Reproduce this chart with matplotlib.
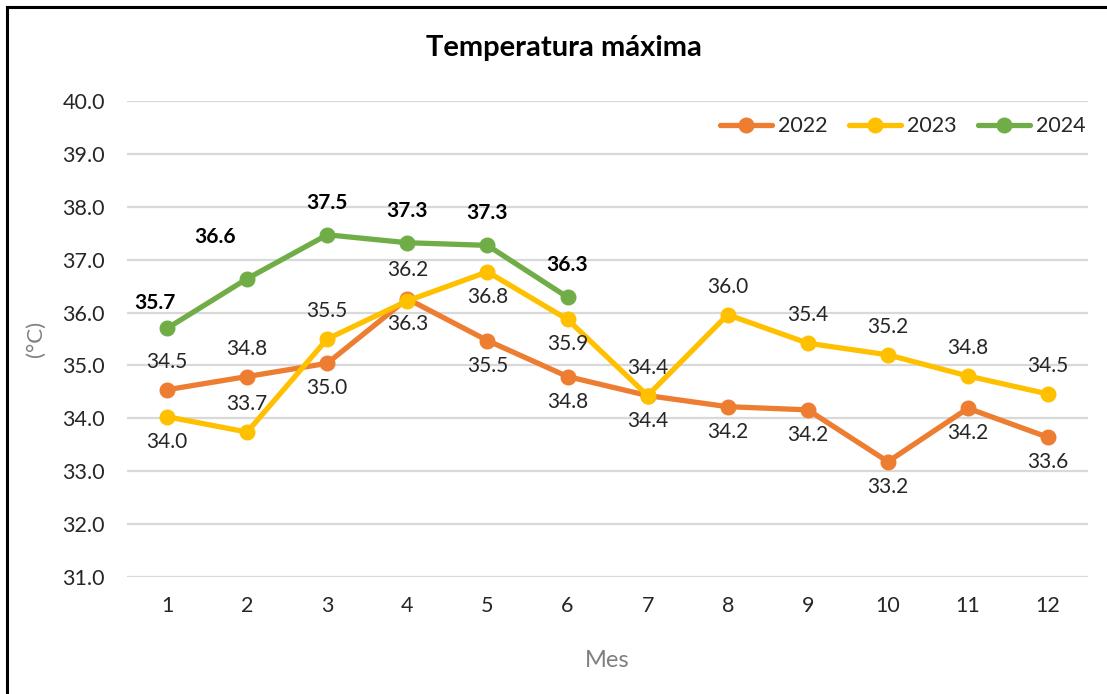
import matplotlib
matplotlib.use("Agg")
import matplotlib.pyplot as plt
from matplotlib.lines import Line2D

plt.rcParams["font.family"] = ["Lato", "DejaVu Sans"]

months = list(range(1, 13))
t2022 = [34.54, 34.79, 35.04, 36.26, 35.47, 34.79, 34.43, 34.22, 34.16, 33.18, 34.19, 33.64]
t2023 = [34.03, 33.74, 35.50, 36.22, 36.77, 35.87, 34.43, 35.96, 35.42, 35.20, 34.80, 34.46]
t2024 = [35.70, 36.64, 37.47, 37.32, 37.27, 36.29]

# label offsets (points) per data point
off2022 = [(0, 20), (0, 20)] + [(0, -18)] * 10
off2023 = [(0, -18), (0, 20), (0, 20), (0, 22), (0, -18), (0, -18)] + [(0, 20)] * 6
off2024 = [(-9, 18), (-23, 30), (0, 23), (0, 23), (0, 23), (0, 23)]

series = [
    ("2022", t2022, off2022, "#ED7D31", "normal"),
    ("2023", t2023, off2023, "#FFC000", "normal"),
    ("2024", t2024, off2024, "#70AD47", "bold"),
]

fig = plt.figure(figsize=(11.07, 6.94), dpi=100)
ax = fig.add_axes([0.1147, 0.1686, 0.983 - 0.1147, 0.8545 - 0.1686])

for name, vals, offs, color, weight in series:
    x = months[:len(vals)]
    ax.plot(x, vals, color=color, lw=3.8, marker="o", markersize=10.5,
            solid_capstyle="round", label=name, zorder=3)
    for xi, v, (dx, dy) in zip(x, vals, offs):
        ax.annotate(f"{v:.1f}", (xi, v), xytext=(dx, dy), textcoords="offset points",
                    ha="center", va="center", fontsize=15, fontweight=weight,
                    color="#262626" if weight == "normal" else "black", zorder=4)

ax.set_xlim(0.5, 12.5)
ax.set_ylim(31, 40)
ax.set_yticks([31 + i for i in range(10)])
ax.set_yticklabels([f"{31 + i:.1f}" for i in range(10)])
ax.set_xticks(months)
ax.tick_params(axis="both", length=0, labelsize=15.5, labelcolor="#262626")
ax.tick_params(axis="y", pad=16)
ax.tick_params(axis="x", pad=14)
ax.grid(axis="y", color="#D9D9D9", lw=1.6)
ax.set_axisbelow(True)
for s in ax.spines.values():
    s.set_visible(False)

ax.set_xlabel("Mes", fontsize=17, color="#7F7F7F", labelpad=24)
ax.set_ylabel("(°C)", fontsize=16, color="#7F7F7F", labelpad=12)
fig.text(0.509, 0.931, "Temperatura máxima", ha="center", va="center",
         fontsize=21, fontweight="bold", color="black")

ax.legend(loc="center right", bbox_to_anchor=(1.0, 0.947), ncol=3, frameon=False,
          fontsize=15.5, handlelength=2.4, columnspacing=1.0, handletextpad=0.3,
          borderaxespad=0, borderpad=0.1, labelcolor="#262626")

# outer frame (top and left edges visible)
fig.add_artist(Line2D([0.0065, 0.0065], [0, 0.99], transform=fig.transFigure,
                      color="black", lw=2.2))
fig.add_artist(Line2D([0.0065, 1.0], [0.99, 0.99], transform=fig.transFigure,
                      color="black", lw=2.2))

fig.savefig("out.png", dpi=100)
